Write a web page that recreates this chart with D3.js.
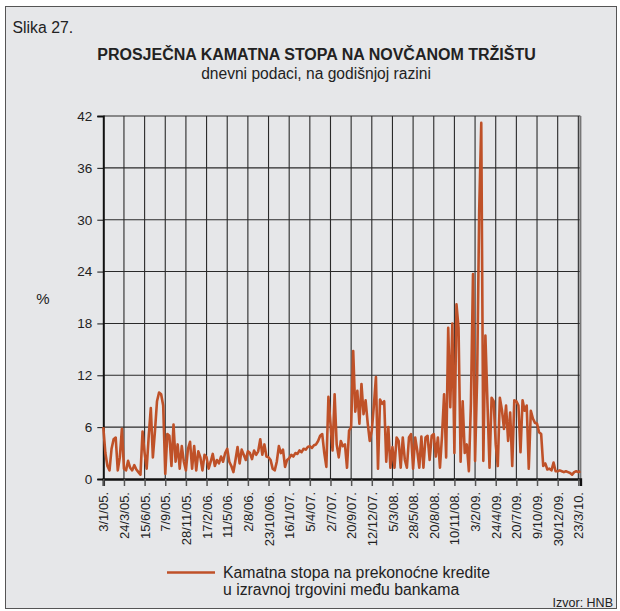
<!DOCTYPE html>
<html>
<head>
<meta charset="utf-8">
<script src="https://cdn.jsdelivr.net/npm/d3@7"></script>
<style>
  html, body { margin: 0; padding: 0; background: #fff; }
  svg { display: block; font-family: "Liberation Sans", Arial, sans-serif; }
</style>
</head>
<body>
<div id="chart"></div>
<script>
// tick labels on the x axis (every 10th point of the series)
const dateLabels = [
    '3/1/05.', '24/3/05.', '15/6/05.', '7/9/05.', '28/11/05.', '17/2/06.',
    '11/5/06.', '2/8/06.', '23/10/06.', '16/1/07.', '5/4/07.', '2/7/07.',
    '20/9/07.', '12/12/07.', '5/3/08.', '28/5/08.', '20/8/08.', '10/11/08.',
    '3/2/09.', '24/4/09.', '20/7/09.', '9/10/09.', '30/12/09.', '23/3/10.'
];

const yTicks = [0, 6, 12, 18, 24, 30, 36, 42];

// overnight interbank rate, % (10 readings per label step)
const overnightRate = [
    6.0, 3.0, 1.5, 1.0, 3.5, 4.6, 4.8, 1.0, 2.5, 5.8,
    1.2, 1.0, 2.1, 1.3, 1.0, 1.6, 1.1, 0.8, 0.5, 5.5,
    3.0, 1.2, 5.0, 8.2, 2.5, 5.5, 9.0, 10.0, 9.8, 8.5,
    0.6, 5.2, 5.0, 1.5, 6.3, 2.0, 4.0, 1.2, 3.8, 2.0,
    1.0, 3.5, 4.3, 1.2, 3.8, 1.0, 3.2, 2.5, 1.0, 2.8,
    2.5, 1.2, 2.0, 2.9, 1.5, 2.2, 1.8, 2.6, 2.0, 3.0,
    3.5, 2.0, 1.5, 0.8, 2.2, 3.7, 1.8, 3.4, 2.8, 2.2,
    3.2, 3.0, 2.3, 3.3, 2.8, 3.2, 4.6, 2.8, 4.0, 2.6,
    2.5, 2.2, 1.2, 1.0, 2.0, 3.8, 3.0, 3.4, 1.4, 2.2,
    2.4, 2.8, 2.6, 3.0, 2.9, 3.3, 3.1, 3.5, 3.4, 3.7,
    3.8, 3.6, 3.9, 4.0, 4.4, 5.0, 5.2, 3.0, 1.4, 9.5,
    6.4, 3.3, 9.8, 4.0, 2.5, 4.4, 3.8, 4.0, 1.3, 5.6,
    6.0, 14.8, 7.8, 10.2, 6.4, 11.0, 7.5, 9.1, 6.5, 4.4,
    5.6, 8.5, 11.8, 1.2, 9.2, 8.7, 9.0, 2.0, 6.0, 1.3,
    3.7, 1.3, 4.8, 4.4, 1.3, 4.8, 2.2, 1.3, 4.8, 5.2,
    1.2, 4.8, 3.3, 1.3, 4.9, 1.3, 4.8, 5.0, 2.2, 5.0,
    5.2, 2.6, 4.8, 1.3, 5.0, 9.8, 2.5, 17.5, 8.3, 18.0,
    3.0, 20.2, 17.5, 2.0, 9.0, 3.0, 4.0, 0.9, 8.8, 23.7,
    2.1, 11.7, 31.0, 41.2, 2.1, 16.6, 8.8, 1.3, 9.4, 9.0,
    4.0, 1.5, 9.4, 8.0, 5.8, 8.5, 4.4, 7.7, 1.5, 9.1,
    9.0, 8.5, 3.1, 9.1, 7.9, 8.5, 1.2, 7.9, 7.0, 6.5,
    6.4, 5.4, 5.2, 1.5, 1.8, 1.1, 1.2, 1.0, 1.9, 0.9,
    0.9, 1.0, 0.9, 0.8, 0.9, 0.8, 0.7, 0.5, 0.8, 0.9,
    0.8, 0.9
];

const width = 620, height = 611;
const plot = { left: 103.3, right: 580.4, top: 116, bottom: 479 };
const lineColor = '#bf5128';
const textColor = '#222';

const svg = d3.select('#chart').append('svg')
    .attr('width', width)
    .attr('height', height);

// panel
svg.append('rect')
    .attr('x', 5.5).attr('y', 6.5)
    .attr('width', 611).attr('height', 602)
    .attr('fill', '#e6e7e9')
    .attr('stroke', '#555')
    .attr('stroke-width', 1);

const xScale = d3.scaleLinear()
    .domain([0, overnightRate.length - 1])
    .range([plot.left, plot.right]);

const yScale = d3.scaleLinear()
    .domain([0, 42])
    .range([plot.bottom, plot.top]);

const tickIdx = dateLabels.map((d, i) => i * 10);

// grid
svg.append('g')
    .selectAll('line')
    .data(tickIdx.slice(1))
    .join('line')
    .attr('x1', d => xScale(d)).attr('x2', d => xScale(d))
    .attr('y1', plot.top).attr('y2', plot.bottom)
    .attr('stroke', '#2a2a2a')
    .attr('stroke-width', 1.1);

svg.append('g')
    .selectAll('line')
    .data(yTicks.slice(1))
    .join('line')
    .attr('x1', plot.left).attr('x2', plot.right)
    .attr('y1', d => yScale(d)).attr('y2', d => yScale(d))
    .attr('stroke', '#2a2a2a')
    .attr('stroke-width', 1.1);

// right border
svg.append('line')
    .attr('x1', plot.right).attr('x2', plot.right)
    .attr('y1', plot.top).attr('y2', plot.bottom)
    .attr('stroke', '#777')
    .attr('stroke-width', 2);

// y axis
const yAxis = svg.append('g')
    .attr('transform', `translate(${plot.left},0)`)
    .call(d3.axisLeft(yScale).tickValues(yTicks).tickSize(6).tickPadding(5));
yAxis.select('.domain').attr('stroke', '#111').attr('stroke-width', 2);
yAxis.selectAll('.tick line').attr('stroke', '#111');
yAxis.selectAll('.tick text')
    .attr('font-size', 13.5)
    .attr('font-family', '"Liberation Sans", Arial, sans-serif')
    .attr('fill', textColor);

// x axis
const xAxis = svg.append('g')
    .attr('transform', `translate(0,${plot.bottom})`)
    .call(d3.axisBottom(xScale)
        .tickValues(tickIdx)
        .tickFormat((d, i) => dateLabels[i])
        .tickSize(7));
xAxis.select('.domain').attr('stroke', '#111').attr('stroke-width', 2.5);
xAxis.selectAll('.tick line').attr('stroke', '#555').attr('stroke-width', 1.5);
xAxis.selectAll('.tick text')
    .attr('font-size', 13)
    .attr('font-family', '"Liberation Sans", Arial, sans-serif')
    .attr('fill', textColor)
    .attr('transform', 'rotate(-90)')
    .attr('text-anchor', 'end')
    .attr('x', -13)
    .attr('y', 0)
    .attr('dy', '0.35em');

// series
const line = d3.line()
    .x((d, i) => xScale(i))
    .y(d => yScale(d));

svg.append('path')
    .datum(overnightRate)
    .attr('d', line)
    .attr('fill', 'none')
    .attr('stroke', lineColor)
    .attr('stroke-width', 2.6)
    .attr('stroke-linejoin', 'round');

// texts
svg.append('text')
    .attr('x', 12.5).attr('y', 33)
    .attr('font-size', 15.8)
    .attr('fill', textColor)
    .text('Slika 27.');

svg.append('text')
    .attr('x', 316.5).attr('y', 60)
    .attr('text-anchor', 'middle')
    .attr('font-size', 16)
    .attr('font-weight', 'bold')
    .attr('fill', textColor)
    .text('PROSJEČNA KAMATNA STOPA NA NOVČANOM TRŽIŠTU');

svg.append('text')
    .attr('x', 316).attr('y', 78.5)
    .attr('text-anchor', 'middle')
    .attr('font-size', 15.6)
    .attr('fill', textColor)
    .text('dnevni podaci, na godišnjoj razini');

svg.append('text')
    .attr('x', 43).attr('y', 304)
    .attr('text-anchor', 'middle')
    .attr('font-size', 15)
    .attr('fill', textColor)
    .text('%');

// legend
svg.append('line')
    .attr('x1', 167).attr('x2', 215)
    .attr('y1', 572.5).attr('y2', 572.5)
    .attr('stroke', lineColor)
    .attr('stroke-width', 2.5);

const legendText = svg.append('text')
    .attr('x', 223).attr('y', 578)
    .attr('font-size', 15.8)
    .attr('fill', textColor);
legendText.append('tspan').attr('x', 223).text('Kamatna stopa na prekonoćne kredite');
legendText.append('tspan').attr('x', 223).attr('dy', 17).text('u izravnoj trgovini među bankama');

svg.append('text')
    .attr('x', 613).attr('y', 607)
    .attr('text-anchor', 'end')
    .attr('font-size', 12.5)
    .attr('fill', textColor)
    .text('Izvor: HNB');
</script>
</body>
</html>
